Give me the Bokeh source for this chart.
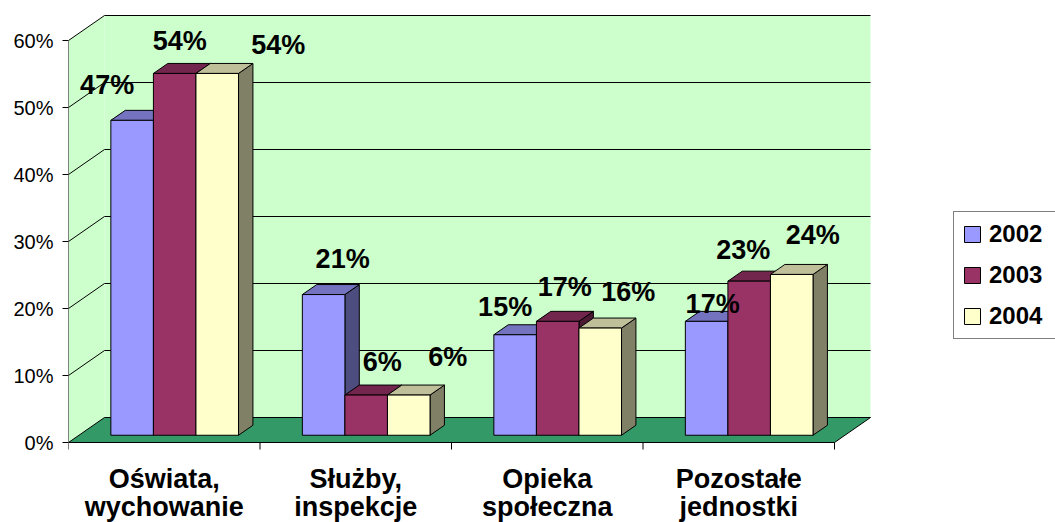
from bokeh.plotting import figure
from bokeh.models import Range1d, LinearAxis, FixedTicker, Legend, LegendItem
from bokeh.core.properties import value
from bokeh.embed import file_html
from bokeh.resources import INLINE

# ---------------- data ----------------
categories = ["Oświata,\nwychowanie", "Służby,\ninspekcje", "Opieka\nspołeczna", "Pozostałe\njednostki"]
series_names = ["2002", "2003", "2004"]
values_2002 = [47, 21, 15, 17]
values_2003 = [54, 6, 17, 23]
values_2004 = [54, 6, 16, 24]
y_ticks = [0, 10, 20, 30, 40, 50, 60]
y_tick_labels = ["0%", "10%", "20%", "30%", "40%", "50%", "60%"]

# ---------------- style ----------------
front_colors = ["#9999FF", "#993366", "#FFFFCC"]
top_colors = ["#7373BF", "#73264D", "#BFBF99"]
side_colors = ["#4D4D80", "#4D1A33", "#808066"]
wall_color = "#CCFFCC"
floor_color = "#339966"
FONT = "Liberation Sans"

# data-label offsets (screen px: right, up) as placed in the original
label_dx = [[-25, 19, -10, 6], [5, 16, 7, -6], [61, 39, 28, 21]]
label_dy = [[35, 36, 28, 17.5], [32, 33.5, 34, 31], [28, 38, 36, 39]]

# ---------------- layout ----------------
W_FIG, H_FIG = 1055, 522
LEFT = 68
FRAME_W = W_FIG - LEFT
PX_CAT = 191.5        # px per category
PX_PCT = 6.7          # px per percent
ZERO_FROM_TOP = 442   # px from top of frame to 0%
DX = 36 / PX_CAT      # depth offset in x units
DY = 25 / PX_PCT      # depth offset in y units
GAP = 1.5             # gap width (in bar widths)
Z0, DEPTH = 0.29, 0.40

series_values = [values_2002, values_2003, values_2004]
n = len(categories)
ns = len(series_names)
y_max = y_ticks[-1]

p = figure(width=W_FIG, height=H_FIG, output_backend="svg", toolbar_location=None,
           x_range=Range1d(0, FRAME_W / PX_CAT),
           y_range=Range1d(-(H_FIG - ZERO_FROM_TOP) / PX_PCT, ZERO_FROM_TOP / PX_PCT),
           x_axis_type=None, y_axis_type=None,
           min_border_left=LEFT, min_border_right=0, min_border_top=0, min_border_bottom=0)
p.outline_line_color = None
p.background_fill_color = "white"
p.border_fill_color = "white"

yaxis = LinearAxis(ticker=FixedTicker(ticks=y_ticks), bounds=(0, y_max),
                   major_label_overrides={t: l for t, l in zip(y_ticks, y_tick_labels)})
yaxis.axis_line_color = "#808080"
yaxis.major_tick_line_color = "black"
yaxis.major_tick_in = 0
yaxis.major_tick_out = 6
yaxis.minor_tick_line_color = None
yaxis.major_label_standoff = 9
yaxis.major_label_text_font = FONT
yaxis.major_label_text_font_size = "20px"
yaxis.major_label_text_color = "black"
p.add_layout(yaxis, "left")

# walls
p.patch([0, DX, DX, 0], [0, DY, y_max + DY, y_max], fill_color=wall_color, line_color=None)
p.quad(left=DX, right=n + DX, bottom=DY, top=y_max + DY, fill_color=wall_color, line_color=None)
# gridlines on side + back wall
p.multi_line(xs=[[0, DX, n + DX] for _ in y_ticks[1:]],
             ys=[[t, t + DY, t + DY] for t in y_ticks[1:]],
             line_color="black", line_width=1)
# floor
p.patch([0, n, n + DX, DX], [0, 0, DY, DY], fill_color=floor_color, line_color="black", line_width=1)
# category tick marks
p.segment(x0=list(range(n + 1)), y0=[0] * (n + 1), x1=list(range(n + 1)),
          y1=[-7 / PX_PCT] * (n + 1), line_color="black", line_width=1)

# bars
bw = 1.0 / (ns + GAP)
ddx, ddy = DEPTH * DX, DEPTH * DY
front_renderers = []
label_x, label_y, label_t = [], [], []
for s in range(ns):
    vals = series_values[s]
    left, right, bottom, top = [], [], [], []
    top_xs, top_ys, side_xs, side_ys = [], [], [], []
    for c in range(n):
        xl = c + GAP / 2 * bw + s * bw + Z0 * DX
        xr = xl + bw
        yb = Z0 * DY
        yt = vals[c] + Z0 * DY
        left.append(xl); right.append(xr); bottom.append(yb); top.append(yt)
        top_xs.append([xl, xr, xr + ddx, xl + ddx])
        top_ys.append([yt, yt, yt + ddy, yt + ddy])
        side_xs.append([xr, xr + ddx, xr + ddx, xr])
        side_ys.append([yb, yb + ddy, yt + ddy, yt])
        label_x.append((xl + xr) / 2 + label_dx[s][c] / PX_CAT)
        label_y.append(yt + label_dy[s][c] / PX_PCT)
        label_t.append(f"{vals[c]}%")
    p.patches(side_xs, side_ys, fill_color=side_colors[s], line_color="black", line_width=1)
    p.patches(top_xs, top_ys, fill_color=top_colors[s], line_color="black", line_width=1)
    r = p.quad(left=left, right=right, bottom=bottom, top=top,
               fill_color=front_colors[s], line_color="black", line_width=1)
    front_renderers.append(r)

# data labels
p.text(x=label_x, y=label_y, text=label_t, text_font=value(FONT), text_font_style="bold",
       text_font_size="27px", text_align="center", text_baseline="middle", text_color="black")

# category labels (two lines)
line_px = [36, 64]
for li in range(2):
    xs, ys, ts = [], [], []
    for c, cat in enumerate(categories):
        parts = cat.split("\n")
        if li < len(parts):
            xs.append(c + 0.5)
            ys.append(-line_px[li] / PX_PCT)
            ts.append(parts[li])
    p.text(x=xs, y=ys, text=ts, text_font=value(FONT), text_font_style="bold",
           text_font_size="27px", text_align="center", text_baseline="alphabetic", text_color="black")

legend = Legend(items=[LegendItem(label=name, renderers=[front_renderers[i]])
                       for i, name in enumerate(series_names)],
                location=(885, 183), margin=0, padding=8, spacing=13,
                glyph_width=20, glyph_height=20, label_height=24, label_width=80,
                label_standoff=7, border_line_color="black", border_line_width=1,
                background_fill_color="white", background_fill_alpha=1.0,
                label_text_font=FONT, label_text_font_size="24px", label_text_font_style="bold",
                label_text_color="black")
p.add_layout(legend)

open("out.html", "w").write(file_html(p, INLINE))
